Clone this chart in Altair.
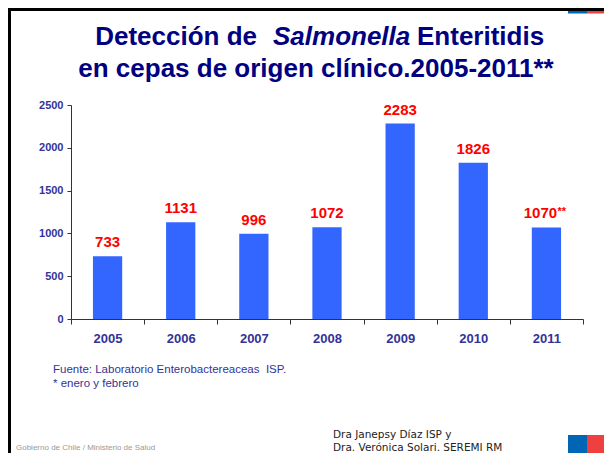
import altair as alt
import pandas as pd

years = ["2005", "2006", "2007", "2008", "2009", "2010", "2011"]
counts = [733, 1131, 996, 1072, 2283, 1826, 1070]
labels = ["733", "1131", "996", "1072", "2283", "1826", "1070"]
suffix = ["", "", "", "", "", "", "**"]
y_ticks = [0, 500, 1000, 1500, 2000, 2500]

df = pd.DataFrame({"year": years, "count": counts, "label": labels, "suffix": suffix})
one = pd.DataFrame({"a": [0]})

W, H = 512, 214
FONT = "Liberation Sans"
NAVY = "#000080"
AXC = "#333399"

base = alt.Chart(df)

x_enc = alt.X(
    "year:N", sort=years,
    scale=alt.Scale(paddingInner=0, paddingOuter=0),
    axis=alt.Axis(title=None, labelAngle=0, labelFont=FONT, labelFontSize=13,
                  labelFontWeight="bold", labelColor=AXC, tickBand="extent",
                  tickSize=5, tickColor="#333333", domainColor="#333333",
                  labelPadding=8),
)
y_enc = alt.Y(
    "count:Q", scale=alt.Scale(domain=[0, 2500]),
    axis=alt.Axis(title=None, values=y_ticks, format="d", grid=False, labelFont=FONT,
                  labelFontSize=11, labelFontWeight="bold", labelColor=AXC,
                  tickSize=4, tickColor="#333333", domainColor="#333333",
                  labelPadding=4),
)

bars = base.mark_bar(color="#3366FF", width=alt.RelativeBandSize(0.4)).encode(x=x_enc, y=y_enc)

vals = base.transform_filter(alt.datum.suffix == "").mark_text(
    font=FONT, fontSize=15, fontWeight="bold", color="#FF0000",
    baseline="alphabetic", dy=-9).encode(x=x_enc, y=y_enc, text="label:N")
vals_last = base.transform_filter(alt.datum.suffix != "").mark_text(
    font=FONT, fontSize=15, fontWeight="bold", color="#FF0000",
    baseline="alphabetic", dy=-9, dx=-6).encode(x=x_enc, y=y_enc, text="label:N")
vals_suf = base.transform_filter(alt.datum.suffix != "").mark_text(
    font=FONT, fontSize=11, fontWeight="bold", color="#FF0000", align="left",
    baseline="alphabetic", dy=-12, dx=11).encode(x=x_enc, y=y_enc, text="suffix:N")


def txt(s, x, y, size, color, weight="normal", style="normal", align="left", font=FONT):
    return alt.Chart(one).mark_text(
        text=s, font=font, fontSize=size, color=color, fontWeight=weight,
        fontStyle=style, align=align, baseline="alphabetic",
    ).encode(x=alt.value(x), y=alt.value(y))


def rect(x1, x2, y1, y2, color):
    return alt.Chart(one).mark_rect(color=color).encode(
        x=alt.value(x1), x2=alt.value(x2), y=alt.value(y1), y2=alt.value(y2))


deco = [
    alt.Chart(one).mark_rule(color="black", strokeWidth=3).encode(
        x=alt.value(-63), x2=alt.value(533), y=alt.value(-95.5)),
    alt.Chart(one).mark_rule(color="black", strokeWidth=3).encode(
        x=alt.value(-61.5), y=alt.value(-97), y2=alt.value(348)),
    rect(497, 516, -94, -91.5, "#0066B3"),
    rect(516, 533, -94, -91.5, "#EF4040"),
    rect(497, 516, 330, 348, "#0066B3"),
    rect(516, 533, 330, 348, "#EF4040"),
    txt("Detección de", 186, -60, 26, NAVY, weight="bold", align="right"),
    txt("Salmonella", 202, -60, 26, NAVY, weight="bold", style="italic"),
    txt("Enteritidis", 346, -60, 26, NAVY, weight="bold"),
    txt("en cepas de origen clínico.2005-2011**", 245, -28, 26, NAVY, weight="bold", align="center"),
    txt("Fuente: Laboratorio Enterobactereaceas\u00a0 ISP.", -18, 268, 11.5, AXC),
    txt("* enero y febrero", -18, 282, 11.5, AXC),
    txt("Gobierno de Chile / Ministerio de Salud", -55, 345, 8, "#999999"),
    txt("Dra Janepsy Díaz ISP y", 262, 333, 10.5, "#222222", font="DejaVu Sans"),
    txt("Dra. Verónica Solari. SEREMI RM", 262, 346, 10.5, "#222222", font="DejaVu Sans"),
]

chart = alt.layer(*deco, bars, vals, vals_last, vals_suf).properties(
    width=W, height=H,
    autosize=alt.AutoSizeParams(type="none"),
    padding={"left": 63, "top": 97, "right": 21, "bottom": 134},
    background="white",
).configure_view(stroke=None)

chart.save("out.html", embed_options={"renderer": "svg", "actions": False})
